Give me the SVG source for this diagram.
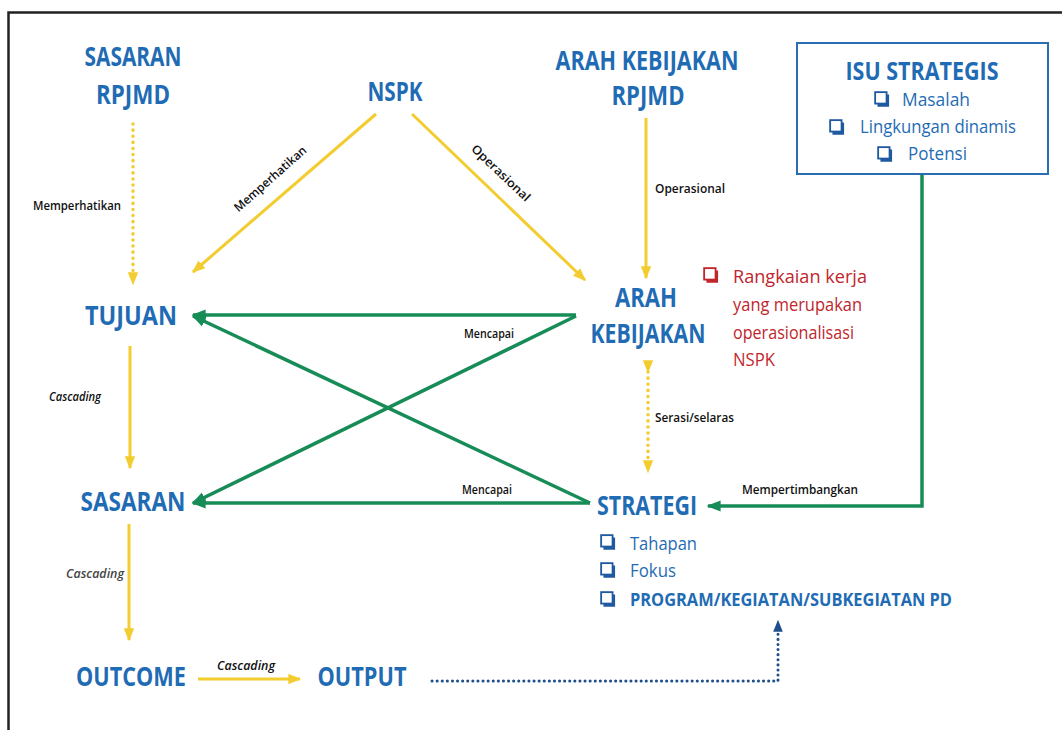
<svg xmlns="http://www.w3.org/2000/svg" width="1062" height="730" viewBox="0 0 1062 730">
<style>
text{font-family:"Open Sans","Noto Sans",sans-serif}
.node{font-weight:700;fill:#1f6cb4;text-anchor:middle}
.big{font-size:26px}
.lbl{font-size:12px;fill:#111;font-weight:600}
.ital{font-style:italic}
.item{font-size:18px;fill:#1f6cb4}
.red{font-size:18px;fill:#c0262d}
.y{fill:none;stroke:#f3cc2f;stroke-width:3}
.yd{fill:none;stroke:#f3cc2f;stroke-width:3.5;stroke-dasharray:0.1 6;stroke-linecap:round}
.g{fill:none;stroke:#178c57;stroke-width:3.5}
.bd{fill:none;stroke:#1f4e8c;stroke-width:3;stroke-dasharray:0.1 5;stroke-linecap:round}
</style>
<defs>
<marker id="ay" viewBox="0 0 10 10" refX="9" refY="5" markerUnits="userSpaceOnUse" markerWidth="13" markerHeight="13" orient="auto-start-reverse"><path d="M0 1 L10 5 L0 9 Z" fill="#f3cc2f"/></marker>
<marker id="ag" viewBox="0 0 10 10" refX="9" refY="5" markerUnits="userSpaceOnUse" markerWidth="14" markerHeight="14" orient="auto"><path d="M0 1 L10 5 L0 9 Z" fill="#178c57"/></marker>
<marker id="ab" viewBox="0 0 10 10" refX="9" refY="5" markerUnits="userSpaceOnUse" markerWidth="12" markerHeight="12" orient="auto"><path d="M0 1 L10 5 L0 9 Z" fill="#1f4e8c"/></marker>
<symbol id="cb" viewBox="0 0 14 14"><rect x="1" y="1" width="10" height="10" fill="#fff" stroke="currentColor" stroke-width="1.6"/><path d="M12 3 V12.5 H3" fill="none" stroke="currentColor" stroke-width="2.4"/></symbol>
</defs>
<path d="M1062 12.5 H8.5 V730" fill="none" stroke="#222" stroke-width="2.5"/>

<g id="connectors">
<path class="yd" d="M133 124 V272"/><path d="M133 272 V284" marker-end="url(#ay)" stroke="#f3cc2f" stroke-width="0"/>
<path class="y" d="M376 114 L193 272" marker-end="url(#ay)"/>
<path class="y" d="M412 114 L585 280" marker-end="url(#ay)"/>
<path class="y" d="M646 118 V278" marker-end="url(#ay)"/>
<path class="yd" d="M648 372 V462"/>
<path d="M648 372 V362 M648 462 V472" marker-start="url(#ay)" marker-end="url(#ay)" stroke="#f3cc2f" stroke-width="0"/>
<path class="y" d="M130 346 V468" marker-end="url(#ay)"/>
<path class="y" d="M129 524 V640" marker-end="url(#ay)"/>
<path class="y" d="M198 679 H300" marker-end="url(#ay)"/>
<path class="g" d="M576 315 H193" marker-end="url(#ag)"/>
<path class="g" d="M590 503 L193 316" marker-end="url(#ag)"/>
<path class="g" d="M576 316 L193 503" marker-end="url(#ag)"/>
<path class="g" d="M590 503 H193" marker-end="url(#ag)"/>
<path class="g" d="M922 174 V506 H708" marker-end="url(#ag)"/>
<path class="bd" d="M432 681 H778 V630"/>
<path d="M778 630 V621" marker-end="url(#ab)" stroke="#1f4e8c" stroke-width="0"/>
<text class="lbl" x="77" y="210" text-anchor="middle" textLength="88" lengthAdjust="spacingAndGlyphs">Memperhatikan</text>
<text class="lbl" transform="translate(273 182) rotate(-41.5)" text-anchor="middle" textLength="92" lengthAdjust="spacingAndGlyphs">Memperhatikan</text>
<text class="lbl" transform="translate(498 176) rotate(43.5)" text-anchor="middle" textLength="76" lengthAdjust="spacingAndGlyphs">Operasional</text>
<text class="lbl" x="690" y="193" text-anchor="middle" textLength="70" lengthAdjust="spacingAndGlyphs">Operasional</text>
<text class="lbl" x="489" y="338" text-anchor="middle" textLength="50" lengthAdjust="spacingAndGlyphs">Mencapai</text>
<text class="lbl" x="487" y="494" text-anchor="middle" textLength="50" lengthAdjust="spacingAndGlyphs">Mencapai</text>
<text class="lbl" x="655" y="422" textLength="79" lengthAdjust="spacingAndGlyphs">Serasi/selaras</text>
<text class="lbl" x="800" y="494" text-anchor="middle" textLength="116" lengthAdjust="spacingAndGlyphs">Mempertimbangkan</text>
<text class="lbl ital" x="75" y="401" text-anchor="middle" textLength="52" lengthAdjust="spacingAndGlyphs">Cascading</text>
<text class="lbl ital" x="95" y="578" text-anchor="middle" textLength="58" lengthAdjust="spacingAndGlyphs" style="fill:#444">Cascading</text>
<text class="lbl ital" x="246" y="670" text-anchor="middle" textLength="58" lengthAdjust="spacingAndGlyphs">Cascading</text>
</g>

<g id="sasaran-rpjmd"><text class="node big" x="133" y="66" textLength="97" lengthAdjust="spacingAndGlyphs">SASARAN</text><text class="node big" x="133" y="104" textLength="74" lengthAdjust="spacingAndGlyphs">RPJMD</text></g>
<g id="nspk"><text class="node big" x="395" y="101" textLength="55" lengthAdjust="spacingAndGlyphs">NSPK</text></g>
<g id="arah-kebijakan-rpjmd"><text class="node big" x="647" y="70" textLength="183" lengthAdjust="spacingAndGlyphs">ARAH KEBIJAKAN</text><text class="node big" x="648" y="105" textLength="73" lengthAdjust="spacingAndGlyphs">RPJMD</text></g>
<g id="isu-strategis" color="#1f5aa0">
<rect x="797" y="43" width="251" height="131" fill="#fff" stroke="#2a6db3" stroke-width="2"/>
<text class="node" x="922" y="80" font-size="25" textLength="153" lengthAdjust="spacingAndGlyphs">ISU STRATEGIS</text>
<use href="#cb" x="874" y="91" width="16" height="16"/><text class="item" x="902" y="106" textLength="68" lengthAdjust="spacingAndGlyphs">Masalah</text>
<use href="#cb" x="829" y="119" width="16" height="16"/><text class="item" x="860" y="133" textLength="156" lengthAdjust="spacingAndGlyphs">Lingkungan dinamis</text>
<use href="#cb" x="877" y="146" width="16" height="16"/><text class="item" x="908" y="160" textLength="59" lengthAdjust="spacingAndGlyphs">Potensi</text>
</g>
<g id="tujuan"><text class="node big" x="131" y="325" textLength="92" lengthAdjust="spacingAndGlyphs">TUJUAN</text></g>
<g id="arah-kebijakan"><text class="node big" x="646" y="307" textLength="62" lengthAdjust="spacingAndGlyphs">ARAH</text><text class="node big" x="648" y="343" textLength="115" lengthAdjust="spacingAndGlyphs">KEBIJAKAN</text></g>
<g id="catatan" color="#c0262d">
<use href="#cb" x="703" y="267" width="16" height="16"/>
<text class="red" x="733" y="283" textLength="134" lengthAdjust="spacingAndGlyphs">Rangkaian kerja</text>
<text class="red" x="733" y="311" textLength="129" lengthAdjust="spacingAndGlyphs">yang merupakan</text>
<text class="red" x="733" y="339" textLength="121" lengthAdjust="spacingAndGlyphs">operasionalisasi</text>
<text class="red" x="733" y="366" textLength="42" lengthAdjust="spacingAndGlyphs">NSPK</text>
</g>
<g id="sasaran"><text class="node big" x="133" y="511" textLength="105" lengthAdjust="spacingAndGlyphs">SASARAN</text></g>
<g id="strategi" color="#1f5aa0"><text class="node big" x="647" y="515" textLength="100" lengthAdjust="spacingAndGlyphs">STRATEGI</text>
<use href="#cb" x="600" y="534" width="16" height="16"/><text class="item" x="630" y="550" textLength="67" lengthAdjust="spacingAndGlyphs">Tahapan</text>
<use href="#cb" x="600" y="562" width="16" height="16"/><text class="item" x="630" y="577" textLength="46" lengthAdjust="spacingAndGlyphs">Fokus</text>
<use href="#cb" x="600" y="591" width="16" height="16"/><text class="item" x="630" y="606" font-weight="700" font-size="17" textLength="322" lengthAdjust="spacingAndGlyphs">PROGRAM/KEGIATAN/SUBKEGIATAN PD</text>
</g>
<g id="outcome"><text class="node big" x="131" y="686" textLength="110" lengthAdjust="spacingAndGlyphs">OUTCOME</text></g>
<g id="output"><text class="node big" x="362" y="686" textLength="89" lengthAdjust="spacingAndGlyphs">OUTPUT</text></g>
</svg>
